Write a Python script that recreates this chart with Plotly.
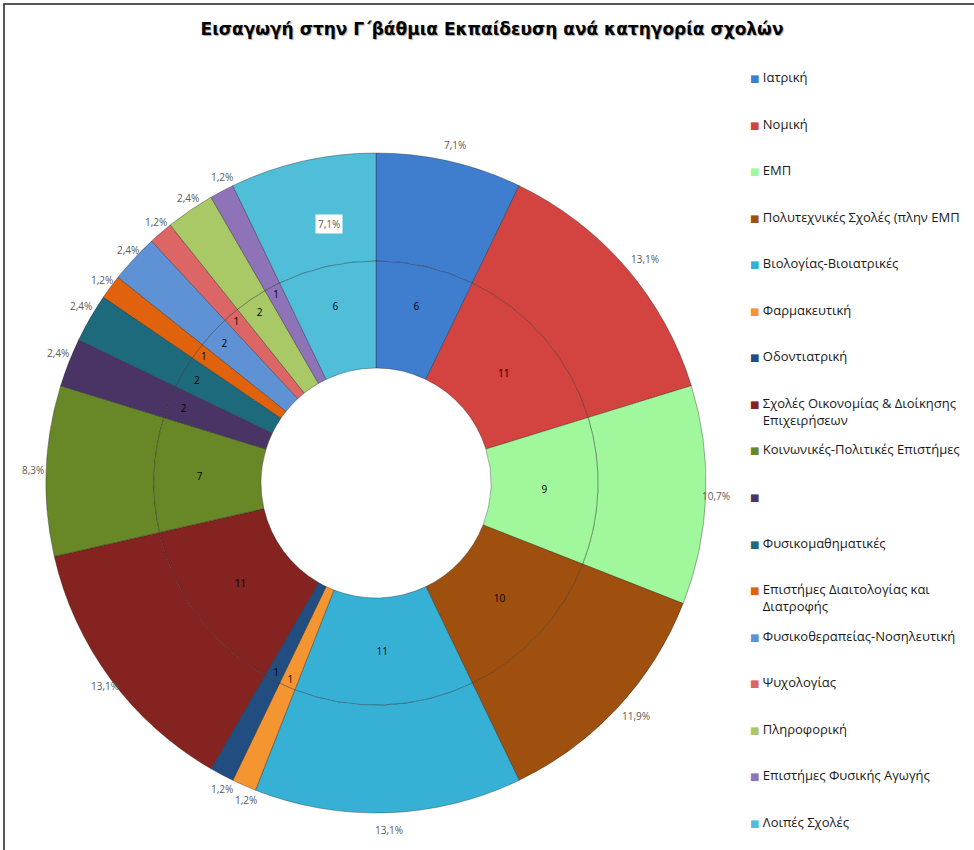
import math
import plotly.graph_objects as go

# ---- data ----
categories = [
    "Ιατρική", "Νομική", "ΕΜΠ", "Πολυτεχνικές Σχολές (πλην ΕΜΠ",
    "Βιολογίας-Βιοιατρικές", "Φαρμακευτική", "Οδοντιατρική",
    "Σχολές Οικονομίας & Διοίκησης Επιχειρήσεων",
    "Κοινωνικές-Πολιτικές Επιστήμες", "", "Φυσικομαθηματικές",
    "Επιστήμες Διαιτολογίας και Διατροφής", "Φυσικοθεραπείας-Νοσηλευτική",
    "Ψυχολογίας", "Πληροφορική", "Επιστήμες Φυσικής Αγωγής", "Λοιπές Σχολές",
]
legend_lines = [
    ["Ιατρική"], ["Νομική"], ["ΕΜΠ"], ["Πολυτεχνικές Σχολές (πλην ΕΜΠ"],
    ["Βιολογίας-Βιοιατρικές"], ["Φαρμακευτική"], ["Οδοντιατρική"],
    ["Σχολές Οικονομίας & Διοίκησης", "Επιχειρήσεων"],
    ["Κοινωνικές-Πολιτικές Επιστήμες"], [""], ["Φυσικομαθηματικές"],
    ["Επιστήμες Διαιτολογίας και", "Διατροφής"], ["Φυσικοθεραπείας-Νοσηλευτική"],
    ["Ψυχολογίας"], ["Πληροφορική"], ["Επιστήμες Φυσικής Αγωγής"], ["Λοιπές Σχολές"],
]
counts = [6, 11, 9, 10, 11, 1, 1, 11, 7, 2, 2, 1, 2, 1, 2, 1, 6]
colors = [
    "#3f7dcf", "#d34441", "#a0f79c", "#a0500e", "#36b1d5", "#f59532",
    "#224d80", "#84231f", "#688828", "#4a3466", "#1c6a7b", "#e0620c",
    "#5f92d4", "#dc6666", "#a9c866", "#8e73b8", "#50bdd9",
]
boxed_label_index = 16  # "Λοιπές Σχολές" percentage shown inside on white box

# ---- geometry (px) ----
W, H = 974, 850
CX, CY = 376, 483
R_OUT, R_MID, R_IN = 330, 222, 115
R_PCT = 355  # radius where the outer percentage labels sit


def dom(r):
    return dict(x=[(CX - r) / W, (CX + r) / W],
                y=[(H - CY - r) / H, (H - CY + r) / H])


total = sum(counts)
line = dict(color="rgba(30,30,30,0.35)", width=1)

fig = go.Figure()
fig.add_trace(go.Pie(
    labels=categories, values=counts, sort=False, direction="clockwise",
    rotation=0, hole=R_MID / R_OUT, domain=dom(R_OUT),
    marker=dict(colors=colors, line=line),
    textinfo="none",
    showlegend=False, hoverinfo="label+value+percent",
))
fig.add_trace(go.Pie(
    labels=categories, values=counts, sort=False, direction="clockwise",
    rotation=0, hole=R_IN / R_MID, domain=dom(R_MID),
    marker=dict(colors=colors, line=line),
    texttemplate="%{value}", textposition="inside",
    insidetextorientation="horizontal",
    insidetextfont=dict(size=10, color="#000000", family="Open Sans"),
    showlegend=False, hoverinfo="label+value+percent",
))

# legend entries (square glyph drawn in text so it sits close to the label)
SQ = "<span style='font-family:DejaVu Sans;font-size:10px;color:{c}'>■</span> "
for lines_, col in zip(legend_lines, colors):
    first = SQ.format(c=col) + lines_[0]
    rest = [SQ.format(c="rgba(0,0,0,0)") + l for l in lines_[1:]]
    if not rest:
        rest = [" "]
    name = "<br>".join([first] + rest)
    fig.add_trace(go.Scatter(
        x=[None], y=[None], mode="markers", name=name,
        legendgroup="g_" + col,
        marker=dict(symbol="square", size=1, color="rgba(0,0,0,0)"),
        hoverinfo="skip",
    ))

# outer-ring percentage labels, placed from the data (mid-angle of each slice)
annotations = []
cum = 0
for i, c in enumerate(counts):
    ang = 2 * math.pi * (cum + c / 2) / total
    cum += c
    boxed = i == boxed_label_index
    r_lab = (R_OUT + R_MID) / 2 if boxed else R_PCT
    px = CX + r_lab * math.sin(ang)
    py = CY - r_lab * math.cos(ang)
    annotations.append(dict(
        x=px / W, y=1 - py / H, xref="paper", yref="paper",
        text=f"{c / total * 100:.1f}%".replace(".", ","), showarrow=False,
        bgcolor="white" if boxed else "rgba(0,0,0,0)",
        font=dict(size=10, color="#595959", family="Open Sans"),
        borderpad=2 if boxed else 0,
    ))

fig.update_layout(
    width=W, height=H,
    margin=dict(l=0, r=0, t=0, b=0, autoexpand=False),
    paper_bgcolor="white", plot_bgcolor="white",
    separators=",.",
    title=dict(
        text="<b>Εισαγωγή στην Γ΄βάθμια Εκπαίδευση ανά κατηγορία σχολών</b>",
        x=492 / W, y=1 - 29 / H, xanchor="center", yanchor="middle",
        font=dict(family="DejaVu Sans", size=17, color="#000000",
                  shadow="1px 1px 1px rgba(0,0,0,0.35)"),
    ),
    xaxis=dict(visible=False), yaxis=dict(visible=False),
    legend=dict(
        x=710 / W, y=1 - 62 / H, xanchor="left", yanchor="top",
        font=dict(family="Open Sans", size=13, color="#1a1a1a"),
        tracegroupgap=9.75, valign="top", itemwidth=30,
        bgcolor="rgba(0,0,0,0)",
    ),
    annotations=annotations,
    shapes=[dict(
        type="rect", xref="paper", yref="paper",
        x0=4 / W, x1=1.05, y0=-0.05, y1=1 - 4 / H,
        line=dict(color="#222222", width=1.5), layer="above",
    )],
)

fig.write_html("out.html",
               config={"displayModeBar": False},
               post_script="document.body.style.margin='0';")
